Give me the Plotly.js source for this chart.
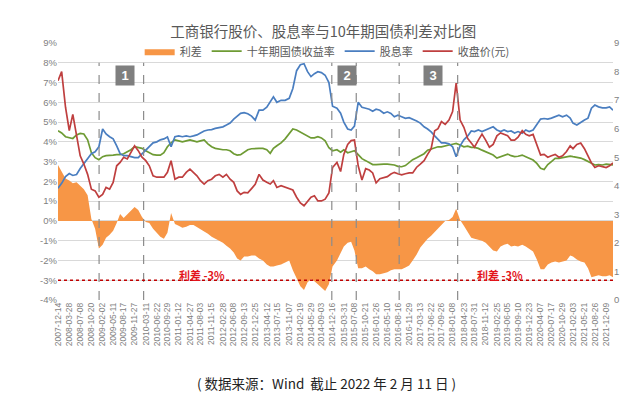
<!DOCTYPE html>
<html>
<head>
<meta charset="utf-8">
<script src="https://cdn.plot.ly/plotly-3.0.1.min.js"></script>
<style>html,body{margin:0;padding:0;background:#fff;}#chart{width:640px;height:399px;}</style>
</head>
<body>
<div id="chart"></div>
<script>
// Sample dates (trading-day axis, ~3 samples between labelled ticks)
const dates = [
'2007-12-14','2008-01-17','2008-02-22','2008-03-28','2008-04-30','2008-06-04',
'2008-07-08','2008-08-11','2008-09-15','2008-10-20','2008-11-24','2008-12-29',
'2009-02-02','2009-03-06','2009-04-08','2009-05-11','2009-06-13','2009-07-15',
'2009-08-17','2009-09-20','2009-10-24','2009-11-27','2009-12-31','2010-02-04',
'2010-03-11','2010-04-13','2010-05-18','2010-06-22','2010-07-25','2010-08-27',
'2010-09-29','2010-11-02','2010-12-08','2011-01-12','2011-02-15','2011-03-23',
'2011-04-27','2011-05-30','2011-07-01','2011-08-03','2011-09-06','2011-10-11',
'2011-11-15','2011-12-19','2012-01-24','2012-02-28','2012-04-01','2012-05-05',
'2012-06-08','2012-07-10','2012-08-11','2012-09-13','2012-10-17','2012-11-21',
'2012-12-25','2013-01-30','2013-03-07','2013-04-12','2013-05-14','2013-06-13',
'2013-07-15','2013-08-23','2013-09-30','2013-11-07','2013-12-11','2014-01-15',
'2014-02-19','2014-03-25','2014-04-27','2014-05-29','2014-06-30','2014-08-01',
'2014-09-03','2014-10-08','2014-11-12','2014-12-16','2015-01-26','2015-03-01',
'2015-03-31','2015-05-06','2015-06-07','2015-07-08','2015-08-12','2015-09-16',
'2015-10-21','2015-11-23','2015-12-25','2016-01-26','2016-03-01','2016-04-06',
'2016-05-10','2016-06-12','2016-07-14','2016-08-16','2016-09-20','2016-10-25',
'2016-11-29','2017-01-01','2017-02-07','2017-03-13','2017-04-17','2017-05-20',
'2017-06-22','2017-07-25','2017-08-25','2017-09-26','2017-10-31','2017-12-05',
'2018-01-08','2018-02-10','2018-03-19','2018-04-23','2018-05-29','2018-07-01',
'2018-07-31','2018-09-05','2018-10-09','2018-11-12','2018-12-17','2019-01-21',
'2019-02-25','2019-03-31','2019-05-03','2019-06-05','2019-07-07','2019-08-09',
'2019-09-10','2019-10-19','2019-11-21','2019-12-23','2020-01-28','2020-03-03',
'2020-04-07','2020-05-10','2020-06-13','2020-07-17','2020-08-21','2020-09-25',
'2020-10-29','2020-12-05','2021-01-08','2021-02-03','2021-03-11','2021-04-16',
'2021-05-21','2021-06-23','2021-07-25','2021-08-26','2021-09-29','2021-11-04',
'2021-12-09','2022-01-10','2022-02-11'
];

// 利差 (%)
const spread = [
2.83,2.5,2.15, 2.05,1.9,1.95, 1.75,1.6,1.3, 0.1,-0.4,-1.4,
-1.2,-0.85,-0.7, -0.5,-0.1,0.35, 0.15,0.35,0.5, 0.7,0.55,0.2,
-0.05,-0.1,-0.4, -0.6,-0.8,-0.9, -0.6,0.4,-0.15, -0.25,-0.35,-0.3,
-0.2,-0.2,-0.3, -0.4,-0.5,-0.65, -0.8,-0.9,-1.0, -1.1,-1.25,-1.4,
-1.6,-1.9,-2.0, -1.8,-1.8,-1.75, -1.75,-1.9,-2.0, -2.2,-2.3,-2.3,
-2.25,-2.2,-2.1, -2.0,-2.5,-2.9, -3.3,-3.5,-3.1, -2.95,-3.05,-3.2,
-3.35,-3.55,-3.2, -2.3,-2.0,-1.6, -1.3,-1.1,-1.05, -1.5,-2.4,-2.4,
-2.3,-2.45,-2.55, -2.7,-2.7,-2.65, -2.6,-2.5,-2.45, -2.45,-2.45,-2.35,
-2.25,-2.0,-1.7, -1.35,-1.1,-0.9, -0.75,-0.55,-0.4, -0.2,0.0,0.05,
0.2,0.62,0.05, -0.25,-0.55,-0.85, -0.9,-0.95,-1.0, -1.1,-1.3,-1.5,
-1.55,-1.3,-1.2, -1.15,-1.3,-1.25, -1.3,-1.2,-1.3, -1.4,-1.55,-1.95,
-2.45,-2.45,-2.2, -2.1,-2.05,-2.1, -2.05,-2.0,-1.75, -1.8,-1.95,-2.05,
-2.1,-2.4,-2.85, -2.8,-2.75,-2.8, -2.8,-2.75,-2.85
];

// 十年期国债收益率 (%)
const bond10y = [
4.56,4.45,4.26, 4.2,4.17,4.35, 4.43,4.4,4.1, 3.45,3.2,3.1,
3.25,3.3,3.33, 3.33,3.35,3.35, 3.4,3.5,3.6, 3.75,3.72,3.67,
3.55,3.45,3.35, 3.33,3.33,3.45, 3.75,3.95,4.1, 4.05,4.0,4.05,
4.1,4.05,4.0, 4.05,4.1,3.9, 3.75,3.67,3.62, 3.6,3.6,3.55,
3.4,3.33,3.35, 3.48,3.6,3.65, 3.67,3.67,3.67, 3.6,3.42,3.67,
3.8,3.95,4.15, 4.4,4.65,4.6, 4.5,4.4,4.28, 4.2,4.2,4.26,
4.2,4.05,3.7, 3.55,3.6,3.48, 3.6,3.45,3.5, 3.55,3.35,3.15,
3.05,2.95,2.85, 2.85,2.87,2.87, 2.87,2.85,2.83, 2.76,2.74,2.8,
2.95,3.1,3.2, 3.3,3.4,3.58, 3.65,3.7,3.75, 3.75,3.78,3.84,
3.88,3.92,3.84, 3.75,3.78,3.72, 3.72,3.67,3.58, 3.5,3.42,3.33,
3.18,3.25,3.33, 3.38,3.3,3.25, 3.27,3.33,3.25, 3.18,3.08,2.91,
2.66,2.6,2.85, 3.0,3.16,3.16, 3.2,3.25,3.28, 3.25,3.22,3.18,
3.1,3.0,2.91, 2.83,2.85,2.83, 2.87,2.85,2.83
];

// 股息率 (%)
const divYield = [
1.65,1.9,2.24, 2.4,2.3,2.35, 2.65,2.9,3.1, 3.4,3.5,3.75,
4.65,4.4,4.26, 4.15,3.8,3.4, 3.3,3.3,3.25, 3.2,3.2,3.4,
3.6,3.75,3.95, 4.0,4.1,4.15, 4.25,3.75,4.26, 4.3,4.26,4.3,
4.26,4.3,4.35, 4.45,4.55,4.6, 4.62,4.68,4.72, 4.76,4.85,4.95,
5.15,5.3,5.44, 5.48,5.42,5.3, 5.1,5.6,5.6, 5.75,6.0,6.28,
6.0,6.1,6.1, 6.2,6.7,7.6, 7.9,7.95,7.55, 7.3,7.45,7.55,
7.5,7.37,7.0, 5.8,5.7,5.45, 5.0,4.65,4.6, 4.8,6.0,5.75,
5.7,5.65,5.55, 5.65,5.6,5.45, 5.52,5.44,5.27, 5.35,5.27,5.19,
5.22,5.15,5.05, 4.95,4.76,4.65, 4.5,4.3,4.12, 3.95,3.95,3.9,
3.75,3.25,3.8, 4.1,4.3,4.55, 4.52,4.6,4.52, 4.6,4.68,4.76,
4.6,4.52,4.6, 4.52,4.55,4.45, 4.52,4.43,4.6, 4.52,4.6,4.9,
5.15,5.18,5.15, 5.2,5.27,5.35, 5.27,5.35,5.2, 4.95,4.85,5.0,
5.1,5.2,5.7, 5.86,5.77,5.72, 5.72,5.77,5.6
];

// 收盘价(元)
const closePrice = [
7.68,8.0,6.75, 5.93,6.5,5.7, 5.05,4.76,4.4, 3.88,3.82,3.6,
3.7,3.94,3.88, 4.12,4.7,4.82, 5.0,4.94,5.17, 5.4,5.23,5.0,
4.88,4.7,4.35, 4.3,4.3,4.3, 4.47,4.88,4.23, 4.3,4.3,4.47,
4.58,4.47,4.35, 4.18,4.06,4.18, 4.23,4.35,4.4, 4.3,4.4,4.23,
4.12,3.82,3.7, 3.77,3.75,3.9, 4.05,4.4,4.2, 4.12,4.06,4.18,
3.94,4.0,3.94, 3.88,3.85,3.6, 3.4,3.3,3.47, 3.6,3.65,3.47,
3.47,3.53,3.75, 4.64,4.82,4.5, 5.1,5.45,5.58, 5.6,4.7,4.2,
4.6,4.55,4.45, 4.1,4.25,4.3, 4.32,4.41,4.47, 4.42,4.38,4.42,
4.45,4.45,4.65, 4.76,4.88,5.1, 5.3,5.93,6.0, 6.25,6.15,6.3,
6.6,7.6,6.3, 6.05,5.65,5.5, 5.35,5.6,5.81, 5.6,5.35,5.45,
5.75,5.85,5.8, 5.75,5.6,5.6, 5.7,5.93,5.8, 5.75,5.8,5.4,
5.08,5.1,5.0, 5.05,5.1,5.0, 5.05,5.2,5.4, 5.3,5.45,5.5,
5.3,5.05,4.8, 4.64,4.7,4.67, 4.64,4.7,4.8
];

// X-axis tick labels
const tickDates = [
'2007-12-14','2008-03-28','2008-07-08','2008-10-20','2009-02-02','2009-05-11',
'2009-08-17','2009-11-27','2010-03-11','2010-06-22','2010-09-29','2011-01-12',
'2011-04-27','2011-08-03','2011-11-15','2012-02-28','2012-06-08','2012-09-13',
'2012-12-25','2013-04-12','2013-07-15','2013-11-07','2014-02-19','2014-05-29',
'2014-09-03','2014-12-16','2015-03-31','2015-07-08','2015-10-21','2016-01-26',
'2016-05-10','2016-08-16','2016-11-29','2017-03-13','2017-06-22','2017-09-26',
'2018-01-08','2018-04-23','2018-07-31','2018-11-12','2019-02-25','2019-06-05',
'2019-09-10','2019-12-23','2020-04-07','2020-07-17','2020-10-29','2021-02-03',
'2021-05-21','2021-08-26','2021-12-09'
];

const leftTicks = [-4,-3,-2,-1,0,1,2,3,4,5,6,7,8,9];
const leftTickText = leftTicks.map(v => v + '%');
const rightTicks = [0,1,2,3,4,5,6,7,8,9];

// Reference markers
const phaseLines = ['2008-12-31','2010-02-19','2014-12-09','2015-07-25','2016-08-28','2018-02-24'];
const phaseLabels = ['1','2','3'];
const phaseLabelDates = ['2009-09-03','2015-04-25','2017-07-08'];
const spreadLineLabel = '利差 -3%';
const spreadLineLabelDates = ['2011-08-15','2019-03-22'];

const traces = [
  {x: dates, y: spread, name: '利差', type: 'scatter', mode: 'lines',
   fill: 'tozeroy', fillcolor: '#F79646', line: {width: 0, color: '#F79646'}},
  {x: dates, y: bond10y, name: '十年期国债收益率', type: 'scatter', mode: 'lines',
   line: {width: 1.7, color: '#6E9B34'}},
  {x: dates, y: divYield, name: '股息率', type: 'scatter', mode: 'lines',
   line: {width: 1.7, color: '#4A7EC0'}},
  {x: dates, y: closePrice, name: '收盘价(元)', type: 'scatter', mode: 'lines', yaxis: 'y2',
   line: {width: 1.7, color: '#BF3F3F'}}
];

const shapes = phaseLines.map(d => ({
  type: 'line', xref: 'x', yref: 'y', x0: d, x1: d, y0: -4, y1: 8,
  line: {color: '#8C8C8C', width: 1.2, dash: 'dash'}, layer: 'above'
}));
shapes.push({type: 'line', xref: 'paper', yref: 'y', x0: 0, x1: 1, y0: -3, y1: -3,
  line: {color: '#C00000', width: 1.4, dash: 'dot'}, layer: 'above'});

const annotations = [];
phaseLabels.forEach((t, k) => annotations.push({
  x: phaseLabelDates[k], y: 7.35, xref: 'x', yref: 'y', text: '<b>' + t + '</b>', showarrow: false,
  font: {size: 13, color: '#ffffff', family: 'Liberation Sans, Arial'},
  bgcolor: '#7F7F7F', width: 14, height: 15, borderpad: 2
}));
spreadLineLabelDates.forEach(d => annotations.push({
  x: d, y: -2.72, xref: 'x', yref: 'y', text: '<b>' + spreadLineLabel + '</b>', showarrow: false,
  font: {size: 11, color: '#E3141B', family: 'Noto Sans CJK SC'}
}));
annotations.push({
  xref: 'paper', yref: 'paper', x: 0.484, y: -0.323, xanchor: 'center', yanchor: 'middle',
  text: '( 数据来源：Wind  截止 2022 年 2 月 11 日 )', showarrow: false,
  font: {size: 13.5, color: '#222222', family: 'Noto Sans CJK SC'}
});

const layout = {
  width: 640, height: 399,
  margin: {l: 58, r: 27, t: 43, b: 99},
  paper_bgcolor: '#ffffff', plot_bgcolor: '#ffffff',
  font: {family: 'Noto Sans CJK SC, Liberation Sans, sans-serif', color: '#595959'},
  title: {text: '工商银行股价、股息率与10年期国债利差对比图', x: 0.505, xanchor: 'center',
          y: 0.92, yanchor: 'middle', yref: 'container',
          font: {size: 14.5, color: '#595959', family: 'Noto Sans CJK SC'}},
  showlegend: true,
  legend: {orientation: 'h', x: 0.485, xanchor: 'center', y: 0.968, yanchor: 'middle',
           bgcolor: 'rgba(0,0,0,0)', font: {size: 11, color: '#595959'}, itemwidth: 30,
           traceorder: 'normal'},
  xaxis: {type: 'date', range: ['2007-12-14', '2022-02-11'], tickmode: 'array',
          tickvals: tickDates, ticktext: tickDates, tickangle: -90,
          tickfont: {size: 8.5, color: '#7F7F7F', family: 'Liberation Sans, Arial'},
          showgrid: false, zeroline: false, showline: false, ticks: ''},
  yaxis: {range: [-4, 9], tickmode: 'array', tickvals: leftTicks, ticktext: leftTickText,
          showgrid: true, gridcolor: '#D9D9D9', gridwidth: 1, zeroline: true,
          zerolinecolor: '#D9D9D9', zerolinewidth: 1, showline: false, ticks: '',
          tickfont: {size: 9.5, color: '#7F7F7F', family: 'Liberation Sans, Arial'}},
  yaxis2: {range: [0, 9], overlaying: 'y', side: 'right', tickmode: 'array', tickvals: rightTicks,
           showgrid: false, zeroline: false, showline: false, ticks: '',
           tickfont: {size: 9.5, color: '#7F7F7F', family: 'Liberation Sans, Arial'}},
  shapes: shapes,
  annotations: annotations
};

Plotly.newPlot('chart', traces, layout, {displayModeBar: false, staticPlot: true});
</script>
</body>
</html>
